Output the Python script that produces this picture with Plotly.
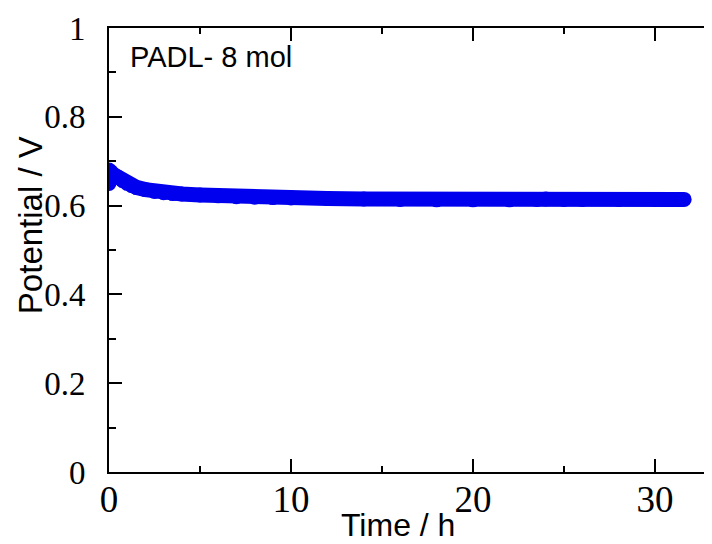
import plotly.graph_objects as go

# Data
time_h = [0.0, 0.0, 0.1, 0.25, 0.5, 0.75, 1.0, 1.25, 1.5, 2.0, 2.5, 3.0, 3.5, 4.0,
          5.0, 6.0, 7.0, 8.0, 9.0, 10.0, 12.0, 14.0, 16.0, 18.0, 20.0, 22.0,
          23.5, 24.0, 25.0, 26.0, 28.0, 30.0, 31.6]
potential_v = [0.650, 0.680, 0.676, 0.670, 0.664, 0.656, 0.650, 0.645, 0.641, 0.636,
               0.632, 0.629, 0.627, 0.626, 0.624, 0.622, 0.620, 0.619, 0.618, 0.617,
               0.616, 0.615, 0.614, 0.613, 0.613, 0.613, 0.614, 0.615, 0.614, 0.614,
               0.614, 0.614, 0.614]

x_ticks = [0, 10, 20, 30]
y_ticks = [0, 0.2, 0.4, 0.6, 0.8, 1]
y_tick_text = ["0", "0.2", "0.4", "0.6", "0.8", "1"]

fig = go.Figure()
fig.add_trace(go.Scatter(
    x=time_h, y=potential_v, mode="lines+markers",
    line=dict(color="#0000ee", width=15),
    marker=dict(color="#0000ee", size=15),
    showlegend=False, hoverinfo="skip",
))

serif = "Liberation Serif, Times New Roman, serif"
sans = "Liberation Sans, Arial, sans-serif"

# page body adds an 8px offset, so the figure is sized 704x536
fig.update_layout(
    width=704, height=536,
    margin=dict(l=101, r=0, t=20, b=72),
    paper_bgcolor="white", plot_bgcolor="white",
    xaxis=dict(
        range=[0, 33.13], tickvals=x_ticks, ticktext=[str(v) for v in x_ticks],
        showline=True, linecolor="black", linewidth=2, mirror="ticks",
        ticks="inside", ticklen=13, tickwidth=2, tickcolor="black",
        minor=dict(ticks="inside", ticklen=6, tickwidth=2, tickcolor="black", dtick=5, tick0=0, showgrid=False),
        showgrid=False, zeroline=False, automargin=False,
        tickfont=dict(family=serif, size=37, color="black"),
        ticklabelstandoff=-6,
    ),
    yaxis=dict(
        range=[0, 1], tickvals=y_ticks, ticktext=y_tick_text,
        showline=True, linecolor="black", linewidth=2, mirror=False,
        ticks="inside", ticklen=13, tickwidth=2, tickcolor="black",
        minor=dict(ticks="inside", ticklen=7, tickwidth=2, tickcolor="black", dtick=0.1, tick0=0, showgrid=False),
        showgrid=False, zeroline=False, automargin=False,
        tickfont=dict(family=serif, size=33, color="black"),
        ticklabelstandoff=15,
    ),
    annotations=[
        dict(text="Potential / V", xref="paper", yref="paper", x=-0.131, y=0.556,
             xanchor="center", yanchor="middle", textangle=-90, showarrow=False,
             font=dict(family=sans, size=33, color="black")),
        dict(text="Time / h", xref="paper", yref="paper", x=0.479, y=-0.119,
             xanchor="center", yanchor="middle", showarrow=False, borderpad=0,
             font=dict(family=sans, size=32, color="black")),
        dict(text="PADL- 8 mol", xref="paper", yref="paper", x=0.0315, y=0.935,
             xanchor="left", yanchor="middle", showarrow=False,
             font=dict(family=sans, size=29, color="black")),
    ],
)

fig.write_html("out.html")
